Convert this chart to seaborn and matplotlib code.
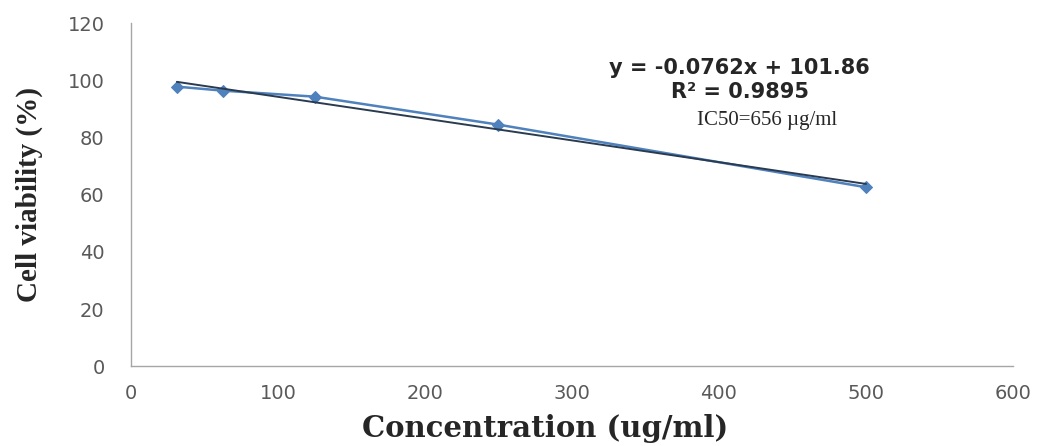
import numpy as np
import pandas as pd
import matplotlib
matplotlib.use("Agg")
import matplotlib.pyplot as plt
import seaborn as sns

# Data
concentration = [31.25, 62.5, 125, 250, 500]
viability = [97.8, 96.4, 94.3, 84.5, 62.6]

# Linear trendline shown on the chart
slope = -0.0762
intercept = 101.86
r_squared = 0.9895

x_ticks = [0, 100, 200, 300, 400, 500, 600]
y_ticks = [0, 20, 40, 60, 80, 100, 120]

df = pd.DataFrame({"conc": concentration, "viab": viability})
trend = pd.DataFrame({"conc": [concentration[0], concentration[-1]]})
trend["viab"] = slope * trend["conc"] + intercept

sns.set_style("white")
plt.rcParams["font.family"] = ["DejaVu Sans"]
fig = plt.figure(figsize=(10.39, 4.46), dpi=100)
ax = fig.add_axes([0.126, 0.179, 0.849, 0.769])

sns.lineplot(data=df, x="conc", y="viab", ax=ax, color="#4f81bd", lw=1.8,
             marker="D", markersize=6, markeredgecolor="#4f81bd")
sns.lineplot(data=trend, x="conc", y="viab", ax=ax, color="#2a3b50", lw=1.4)

ax.set_xlim(0, 600)
ax.set_ylim(0, 120)
ax.set_xticks(x_ticks)
ax.set_yticks(y_ticks)
ax.tick_params(length=0, labelsize=14, labelcolor="#595959")
ax.tick_params(axis="y", pad=19)
ax.tick_params(axis="x", pad=13)

for side in ["top", "right"]:
    ax.spines[side].set_visible(False)
for side in ["left", "bottom"]:
    ax.spines[side].set_color("#a6a6a6")
    ax.spines[side].set_linewidth(1)

ax.set_xlabel("Concentration (ug/ml)", family="DejaVu Serif", fontweight="bold",
              fontsize=21)
ax.xaxis.set_label_coords(0.47, -0.14)
ax.set_ylabel("Cell viability (%)", family="Liberation Serif", fontweight="bold",
              fontsize=21, labelpad=18)

ax.text(414, 104.3, f"y = {slope}x + {intercept}", ha="center", va="center",
        fontsize=15, fontweight="bold", color="#262626")
ax.text(414, 95.9, f"R² = {r_squared}", ha="center", va="center",
        fontsize=15, fontweight="bold", color="#262626")
ax.text(385, 86, "IC50=656 µg/ml", ha="left", va="center",
        family="Liberation Serif", fontsize=15, color="#262626")

fig.savefig("out.png", dpi=100)
